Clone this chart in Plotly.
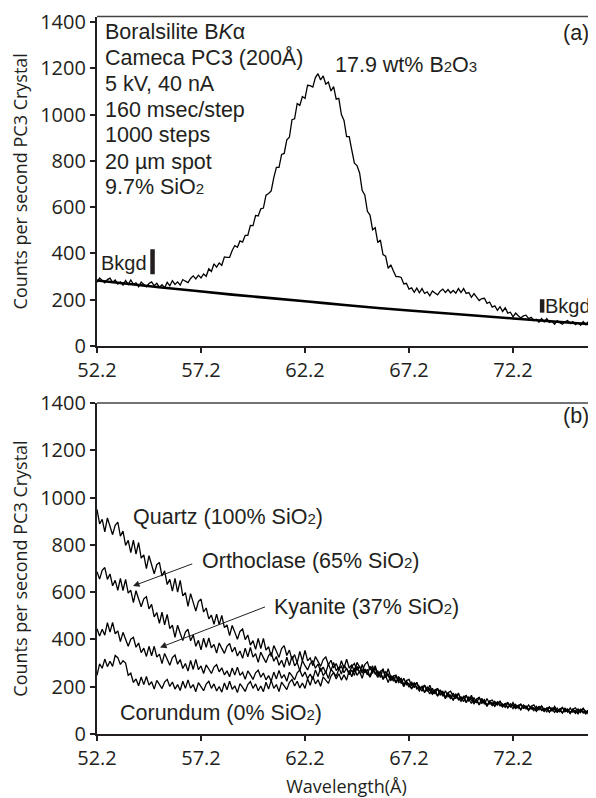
import plotly.graph_objects as go

# ---------------- data ----------------
wl_start = 52.2
wl_step = 0.125
n_steps = 193
wavelength = [round(wl_start + wl_step * i, 3) for i in range(n_steps)]

# (a) Boralsilite B K-alpha scan (counts per second)
boralsilite = [275, 294, 283, 273, 287, 293, 275, 285, 268, 277, 263, 283, 266, 285, 266, 273,
               256, 276, 266, 256, 270, 277, 260, 271, 254, 265, 252, 275, 260, 282, 266, 277,
               263, 287, 280, 274, 292, 303, 290, 306, 294, 311, 301, 334, 322, 355, 341, 359,
               349, 385, 383, 383, 413, 434, 427, 454, 449, 478, 478, 521, 520, 564, 562, 593,
               596, 652, 659, 670, 728, 772, 772, 828, 832, 891, 902, 978, 982, 1048, 1040, 1078,
               1070, 1127, 1125, 1119, 1160, 1177, 1150, 1167, 1132, 1141, 1102, 1121, 1067, 1070, 1000, 975,
               905, 905, 847, 790, 780, 748, 672, 653, 582, 566, 502, 511, 447, 458, 395, 388,
               335, 351, 324, 300, 300, 296, 268, 271, 246, 251, 232, 250, 230, 248, 227, 234,
               217, 238, 229, 221, 237, 246, 231, 244, 229, 240, 228, 248, 231, 248, 227, 231,
               210, 226, 211, 196, 205, 206, 184, 190, 168, 173, 154, 170, 149, 165, 142, 146,
               126, 142, 131, 121, 130, 133, 118, 124, 109, 115, 103, 118, 104, 118, 102, 107,
               94, 109, 101, 94, 105, 110, 97, 105, 92, 100, 89, 105, 92, 106, 91, 97, 84]

# fitted background under the peak
bg_wavelength = [52.2, 55.3, 58.7, 62.2, 64.1, 67.2, 72.2, 76.2]
bg_counts = [283, 253, 222, 193, 177, 153, 119, 92]

# background measurement positions (wavelength, counts low, counts high)
bkgd_left = (54.87, 310, 418)
bkgd_right = (73.6, 144, 202)

# (b) SiO2-bearing standards
quartz = [950, 889, 908, 855, 914, 878, 843, 883, 896, 837, 858, 798, 819, 767, 820, 761,
          810, 744, 758, 700, 754, 716, 678, 716, 726, 668, 690, 632, 654, 604, 658, 600,
          650, 584, 598, 540, 594, 557, 520, 560, 571, 516, 533, 487, 503, 464, 507, 462,
          502, 450, 461, 416, 459, 431, 401, 434, 444, 399, 419, 376, 395, 358, 404, 361,
          404, 355, 369, 327, 374, 350, 324, 361, 374, 332, 355, 314, 336, 301, 349, 309,
          354, 310, 322, 289, 328, 307, 286, 315, 326, 293, 312, 279, 298, 271, 310, 278,
          316, 279, 293, 262, 303, 283, 264, 294, 305, 271, 288, 252, 268, 239, 276, 241,
          276, 239, 245, 219, 243, 226, 209, 226, 231, 206, 216, 191, 202, 181, 207, 182,
          206, 178, 186, 161, 187, 171, 156, 175, 181, 158, 169, 145, 157, 137, 163, 139,
          164, 137, 146, 123, 150, 135, 121, 139, 144, 127, 136, 119, 127, 113, 132, 115,
          133, 114, 120, 103, 123, 113, 103, 117, 123, 106, 116, 99, 108, 94, 114, 98,
          117, 98, 105, 89, 109, 100, 90, 105, 111, 95, 105, 89, 98, 85, 105, 89, 108]
orthoclase = [686, 655, 692, 704, 654, 677, 627, 650, 608, 658, 607, 654, 596, 608, 556, 606,
              571, 538, 572, 581, 529, 548, 495, 514, 468, 515, 462, 506, 446, 460, 409, 460,
              426, 395, 431, 443, 394, 419, 371, 396, 356, 405, 367, 406, 364, 379, 342, 385,
              362, 341, 371, 383, 347, 367, 330, 351, 320, 363, 326, 366, 325, 340, 303, 346,
              323, 302, 332, 344, 308, 328, 291, 312, 282, 325, 289, 329, 288, 303, 267, 311,
              289, 271, 298, 309, 278, 296, 265, 283, 258, 297, 267, 303, 268, 283, 253, 291,
              275, 258, 286, 298, 269, 287, 257, 275, 250, 287, 256, 289, 252, 264, 231, 265,
              245, 229, 245, 249, 225, 235, 209, 219, 198, 221, 196, 219, 191, 198, 175, 199,
              184, 169, 187, 192, 169, 180, 156, 168, 148, 173, 149, 173, 146, 154, 132, 157,
              143, 129, 148, 155, 133, 145, 122, 134, 120, 138, 122, 139, 120, 126, 110, 128,
              118, 108, 121, 126, 110, 119, 104, 112, 99, 117, 102, 119, 101, 107, 92, 111,
              102, 92, 106, 112, 96, 106, 91, 100, 87, 106, 91, 109, 91, 98, 83, 102, 93]
kyanite = [445, 414, 443, 418, 471, 431, 472, 424, 436, 391, 430, 401, 371, 401, 409, 367,
           385, 344, 363, 328, 371, 331, 371, 325, 338, 298, 341, 316, 291, 323, 334, 295,
           315, 277, 298, 266, 311, 273, 316, 272, 288, 256, 292, 275, 256, 283, 293, 263,
           280, 250, 267, 242, 279, 249, 283, 248, 261, 231, 267, 250, 231, 259, 270, 240,
           258, 229, 247, 223, 262, 233, 269, 236, 251, 223, 261, 246, 229, 259, 271, 243,
           262, 234, 254, 231, 271, 243, 280, 247, 263, 235, 274, 260, 244, 274, 287, 259,
           279, 251, 271, 248, 287, 258, 294, 259, 273, 242, 278, 259, 239, 265, 273, 240,
           255, 227, 237, 216, 239, 214, 236, 208, 214, 190, 213, 198, 182, 200, 205, 182,
           193, 169, 180, 160, 184, 160, 183, 157, 164, 142, 166, 152, 138, 157, 163, 141,
           153, 130, 142, 124, 149, 126, 150, 127, 132, 117, 134, 125, 114, 128, 132, 116,
           124, 109, 116, 103, 121, 106, 123, 105, 111, 96, 114, 105, 95, 109, 114, 99,
           108, 93, 101, 89, 107, 93, 110, 93, 99, 85, 103, 95, 85, 100, 105, 90, 99]
corundum = [248, 297, 278, 317, 285, 308, 286, 332, 323, 294, 310, 300, 248, 257, 218, 233,
            204, 241, 209, 243, 207, 221, 190, 227, 210, 192, 220, 231, 201, 220, 190, 209,
            184, 223, 193, 229, 194, 209, 179, 217, 200, 183, 211, 223, 193, 212, 182, 201,
            177, 216, 187, 223, 189, 204, 175, 213, 197, 180, 209, 222, 193, 212, 183, 203,
            179, 219, 190, 227, 193, 209, 180, 219, 204, 188, 218, 231, 203, 223, 195, 216,
            193, 234, 206, 244, 212, 229, 202, 242, 228, 214, 245, 260, 233, 255, 228, 250,
            228, 269, 242, 280, 248, 264, 236, 274, 258, 240, 268, 278, 247, 263, 231, 246,
            218, 248, 223, 246, 218, 224, 200, 224, 208, 193, 210, 215, 191, 202, 178, 189,
            169, 193, 169, 192, 165, 172, 149, 174, 159, 145, 163, 169, 147, 159, 136, 148,
            129, 154, 131, 156, 130, 138, 116, 139, 129, 119, 132, 137, 120, 129, 113, 121,
            107, 125, 109, 126, 108, 114, 99, 117, 108, 98, 112, 117, 101, 110, 95, 104,
            91, 109, 94, 112, 94, 101, 86, 105, 96, 87, 101, 107, 91, 101, 86, 95, 82]

x_ticks = [52.2, 57.2, 62.2, 67.2, 72.2]
y_ticks = [0, 200, 400, 600, 800, 1000, 1200, 1400]

# ---------------- styling ----------------
INK = "#231f20"
TICK_FONT = dict(family="Open Sans", size=20, color=INK)
ANN_FONT = dict(family="Liberation Sans", size=21.5, color=INK)
BKGD_FONT = dict(family="Liberation Sans", size=20, color=INK)
TITLE_FONT = dict(family="Open Sans", size=18, color=INK)
SUB = '<span style="font-size:15px">{}</span>'

fig = go.Figure()

line_style = dict(color="black", width=1.3)
fig.add_trace(go.Scatter(x=wavelength, y=boralsilite, mode="lines", line=line_style,
                         xaxis="x", yaxis="y", showlegend=False))
fig.add_trace(go.Scatter(x=bg_wavelength, y=bg_counts, mode="lines",
                         line=dict(color="black", width=2.6, shape="spline", smoothing=0.6),
                         xaxis="x", yaxis="y", showlegend=False))
for series in [quartz, orthoclase, kyanite, corundum]:
    fig.add_trace(go.Scatter(x=wavelength, y=series, mode="lines", line=line_style,
                             xaxis="x2", yaxis="y2", showlegend=False))

axis_common = dict(showline=True, linecolor=INK, linewidth=2.2, ticks="outside",
                   ticklen=5, tickwidth=1.5, tickcolor=INK, tickfont=TICK_FONT,
                   showgrid=False, zeroline=False, automargin=False)

x_range = [52.2, 76.19]
top_dom = [0.5722, 0.9892]
bot_dom = [0.0810, 0.5000]
fig.update_layout(
    width=588, height=790,
    margin=dict(l=89, r=0, t=0, b=0),
    paper_bgcolor="white", plot_bgcolor="white",
    xaxis=dict(domain=[0, 1], anchor="y", range=x_range, tickvals=x_ticks,
               tickformat=".1f", ticklabelstandoff=0, **axis_common),
    yaxis=dict(domain=top_dom, anchor="x", range=[0, 1424], tickvals=y_ticks,
               title=dict(text="Counts per second PC3 Crystal", font=TITLE_FONT, standoff=8),
               **axis_common),
    xaxis2=dict(domain=[0, 1], anchor="y2", range=x_range, tickvals=x_ticks,
                tickformat=".1f", ticklabelstandoff=0,
                title=dict(text="Wavelength(Å)", font=TITLE_FONT, standoff=14),
                **axis_common),
    yaxis2=dict(domain=bot_dom, anchor="x2", range=[0, 1400], tickvals=y_ticks,
                title=dict(text="Counts per second PC3 Crystal", font=TITLE_FONT, standoff=8),
                **axis_common),
)

# top border lines of both frames
for ytop in [top_dom[1], bot_dom[1]]:
    fig.add_shape(type="line", xref="paper", yref="paper", x0=0, x1=1, y0=ytop, y1=ytop,
                  line=dict(color="#444444", width=1.5))

# background marker bars
for bx, lo, hi in [bkgd_left, bkgd_right]:
    fig.add_shape(type="line", xref="x", yref="y", x0=bx, x1=bx, y0=lo, y1=hi,
                  line=dict(color=INK, width=4.5))

ann = []
info_lines = ["Boralsilite B<i>K</i>α", "Cameca PC3 (200Å)", "5 kV, 40 nA", "160 msec/step",
              "1000 steps", "20 µm spot", "9.7% SiO" + SUB.format("2")]
info_y = [1357, 1245, 1131, 1020, 912, 797, 685]
for t, yv in zip(info_lines, info_y):
    ann.append(dict(x=52.5, y=yv, xref="x", yref="y", text=t, showarrow=False,
                    xanchor="left", yanchor="middle", font=ANN_FONT))
ann.append(dict(x=63.55, y=1214, xref="x", yref="y",
                text="17.9 wt% B" + SUB.format("2") + "O" + SUB.format("3"),
                showarrow=False, xanchor="left", yanchor="middle", font=ANN_FONT))
ann.append(dict(x=75.95, y=1353, xref="x", yref="y", text="(a)", showarrow=False,
                xanchor="right", yanchor="middle", font=ANN_FONT))
ann.append(dict(x=52.3, y=359, xref="x", yref="y", text="Bkgd", showarrow=False,
                xanchor="left", yanchor="middle", font=BKGD_FONT))
ann.append(dict(x=73.66, y=173, xref="x", yref="y", text="Bkgd", showarrow=False,
                xanchor="left", yanchor="middle", font=BKGD_FONT))

ann.append(dict(x=75.95, y=1345, xref="x2", yref="y2", text="(b)", showarrow=False,
                xanchor="right", yanchor="middle", font=ANN_FONT))
labels_b = [("Quartz (100% SiO" + SUB.format("2") + ")", 53.83, 919),
            ("Orthoclase (65% SiO" + SUB.format("2") + ")", 57.15, 732),
            ("Kyanite (37% SiO" + SUB.format("2") + ")", 60.6, 536),
            ("Corundum (0% SiO" + SUB.format("2") + ")", 53.2, 89)]
for t, xv, yv in labels_b:
    ann.append(dict(x=xv, y=yv, xref="x2", yref="y2", text=t, showarrow=False,
                    xanchor="left", yanchor="middle", font=ANN_FONT))
# arrows
for (hx, hy, tx, ty) in [(53.93, 626, 56.85, 722), (55.23, 366, 60.35, 540)]:
    ann.append(dict(x=hx, y=hy, xref="x2", yref="y2", ax=tx, ay=ty, axref="x2", ayref="y2",
                    text="", showarrow=True, arrowhead=2, arrowsize=1.3, arrowwidth=1,
                    arrowcolor=INK))
fig.update_layout(annotations=ann)

fig.write_html("out.html")
